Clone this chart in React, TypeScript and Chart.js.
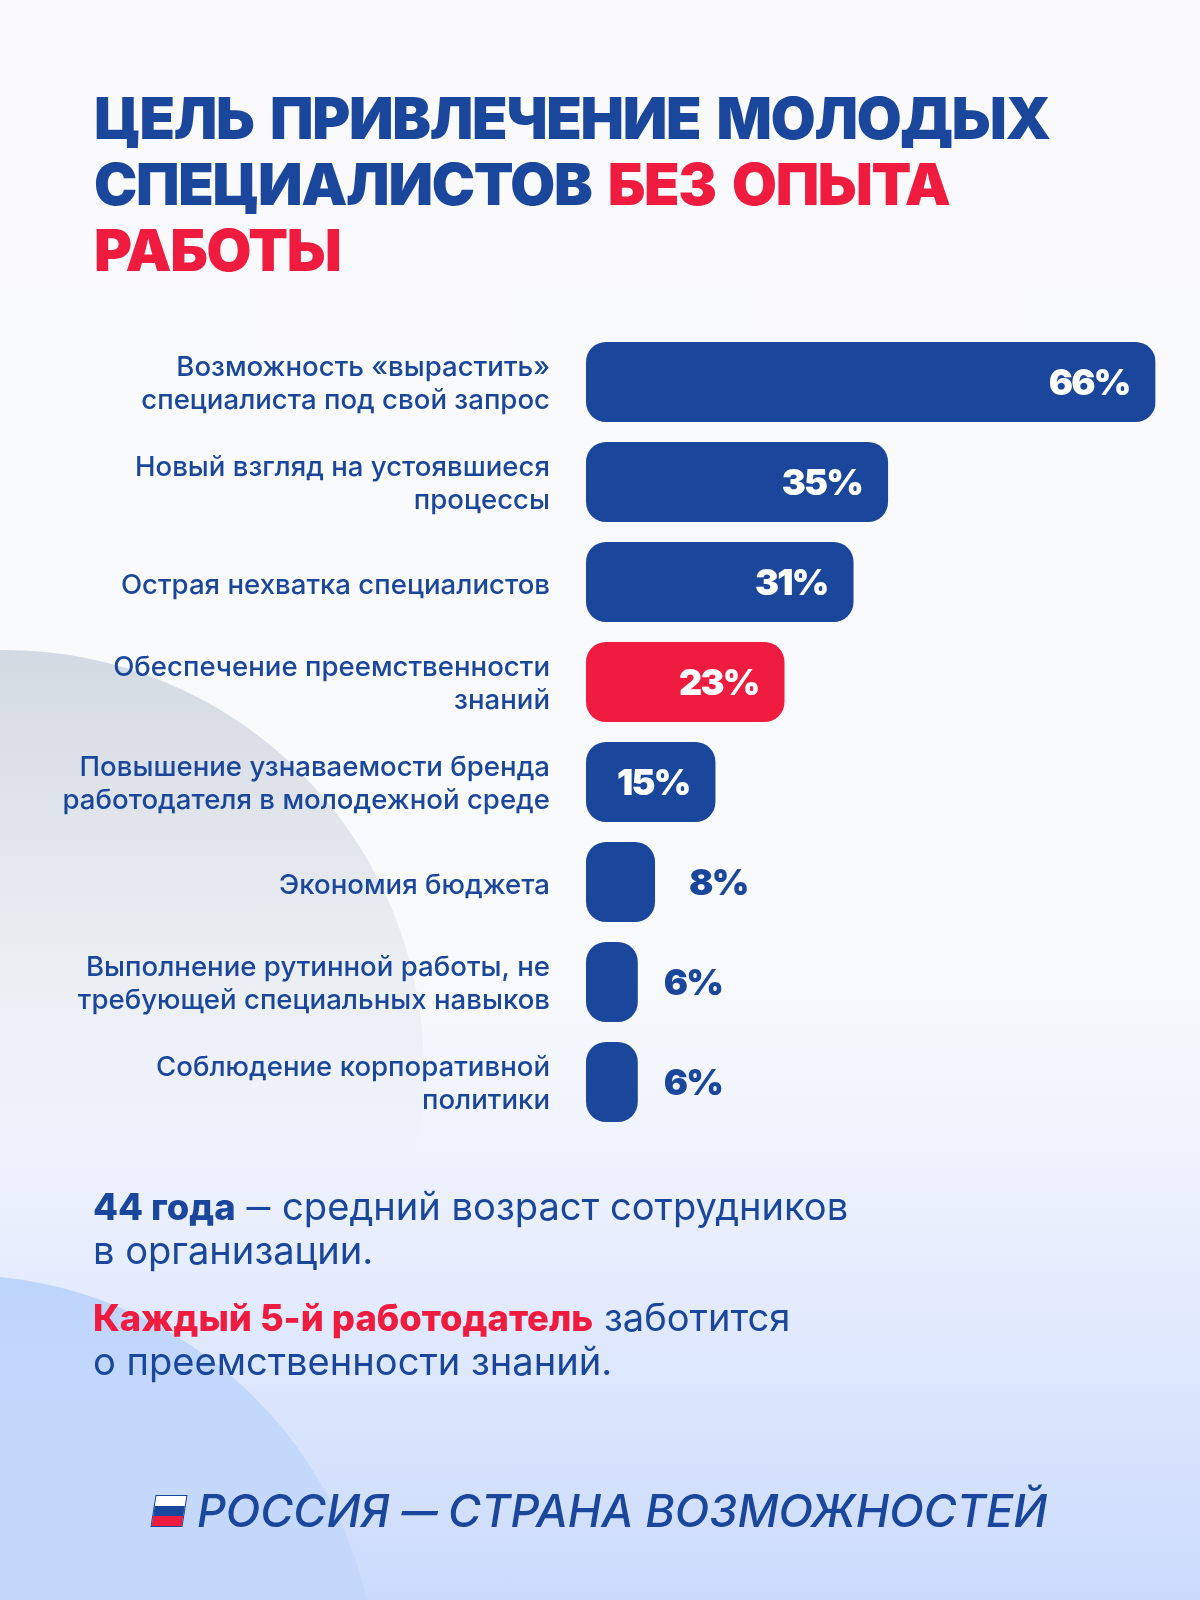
import { useEffect, useRef } from "react";
import { Chart, registerables } from "chart.js";

Chart.register(...registerables);

const BLUE = "#1A479C";
const RED = "#EF1C3F";

const categories = [
  ["Возможность «вырастить»", "специалиста под свой запрос"],
  ["Новый взгляд на устоявшиеся", "процессы"],
  ["Острая нехватка специалистов"],
  ["Обеспечение преемственности", "знаний"],
  ["Повышение узнаваемости бренда", "работодателя в молодежной среде"],
  ["Экономия бюджета"],
  ["Выполнение рутинной работы, не", "требующей специальных навыков"],
  ["Соблюдение корпоративной", "политики"],
];
const values = [66, 35, 31, 23, 15, 8, 6, 6];
const barColors = [BLUE, BLUE, BLUE, RED, BLUE, BLUE, BLUE, BLUE];

// Values above this sit inside the bar in white, the rest go beside it in blue.
const INSIDE_FROM = 15;

const valueLabels = {
  id: "valueLabels",
  // Chart.js has no y offset for tick labels, so nudge the cached items
  afterUpdate(chart: any) {
    chart.scales.y.getLabelItems().forEach((item: any) => {
      item.options.translation[1] += item.label.length === 1 ? 4 : 2;
    });
  },
  afterDatasetsDraw(chart: Chart) {
    const { ctx } = chart;
    ctx.save();
    ctx.font = "900 36px Inter, sans-serif";
    (ctx as any).letterSpacing = "-1.8px";
    ctx.textBaseline = "middle";
    chart.getDatasetMeta(0).data.forEach((bar, i) => {
      const inside = values[i] >= INSIDE_FROM;
      ctx.fillStyle = inside ? "#FFFFFF" : BLUE;
      ctx.textAlign = inside ? "right" : "left";
      // the 8% label stands a bit further off its bar than the 6% ones
      const gap = inside ? -26 : values[i] === 8 ? 34 : 26;
      ctx.fillText(values[i] + "%", bar.x + gap, bar.y + 2);
    });
    ctx.restore();
  },
};

export default function App() {
  const canvasRef = useRef<HTMLCanvasElement>(null);

  useEffect(() => {
    document.body.style.margin = "0";
    const chart = new Chart(canvasRef.current!, {
      type: "bar",
      data: {
        labels: categories,
        datasets: [
          {
            data: values,
            backgroundColor: barColors,
            borderRadius: 20,
            borderSkipped: false,
            inflateAmount: 0,
            barPercentage: 0.8,
            categoryPercentage: 1,
          },
        ],
      },
      options: {
        indexAxis: "y",
        responsive: false,
        animation: false,
        layout: { padding: { top: 332, bottom: 468, right: 44.4, left: 0 } },
        plugins: { legend: { display: false }, tooltip: { enabled: false } },
        scales: {
          x: { display: false, min: 0, max: 66 },
          y: {
            grid: { display: false },
            border: { display: false },
            afterFit(scale) {
              scale.width = 586;
            },
            ticks: {
              color: BLUE,
              padding: 28,
              font: { family: "Inter, sans-serif", size: 27.6, weight: 500, lineHeight: 1.19 },
            },
          },
        },
      },
      plugins: [valueLabels],
    });
    return () => chart.destroy();
  }, []);

  const paragraph = {
    position: "absolute",
    left: 93,
    fontSize: 38.1,
    lineHeight: "43px",
    color: BLUE,
    whiteSpace: "pre",
  } as const;
  const strong = { fontWeight: 800, fontSize: 36.4 };

  return (
    <div
      style={{
        position: "relative",
        width: 1200,
        height: 1600,
        overflow: "hidden",
        background: "linear-gradient(180deg, #FAFAFC 0%, #F9FAFC 60%, #EEF2FD 72.5%, #CBDBFC 100%)",
        fontFamily: "Inter, sans-serif",
      }}
    >
      {/* background circles */}
      <div
        style={{
          position: "absolute",
          left: -416,
          top: 650,
          width: 840,
          height: 840,
          borderRadius: "50%",
          background: "linear-gradient(180deg, #D4DAE3 0%, rgba(212,218,227,0) 60%)",
        }}
      />
      <div
        style={{
          position: "absolute",
          left: -462,
          top: 1275,
          width: 840,
          height: 840,
          borderRadius: "50%",
          background: "linear-gradient(180deg, #BDD4FB 0%, rgba(189,212,251,0) 75%)",
        }}
      />

      <div
        style={{
          position: "absolute",
          left: 94,
          top: 85,
          fontSize: 58,
          fontWeight: 900,
          lineHeight: "66px",
          letterSpacing: "-1.3px",
          wordSpacing: "6px",
          color: BLUE,
          whiteSpace: "pre",
        }}
      >
        {"ЦЕЛЬ ПРИВЛЕЧЕНИЕ МОЛОДЫХ\nСПЕЦИАЛИСТОВ "}
        <span style={{ color: RED }}>{"БЕЗ ОПЫТА\nРАБОТЫ"}</span>
      </div>

      <canvas ref={canvasRef} width={1200} height={1600} style={{ position: "absolute", left: 0, top: 0 }} />

      <div style={{ ...paragraph, top: 1185 }}>
        <b style={strong}>44 года</b>
        {" "}
        <span style={{ display: "inline-block", margin: "0 3px", transform: "scaleX(1.25)" }}>–</span>
        {" средний возраст сотрудников\nв организации."}
      </div>
      <div style={{ ...paragraph, top: 1296 }}>
        <b style={{ ...strong, color: RED }}>Каждый 5-й работодатель</b>
        {" заботится\nо преемственности знаний."}
      </div>

      {/* flag in front of the slogan */}
      <div
        style={{
          position: "absolute",
          left: 153,
          top: 1495,
          width: 30,
          height: 30,
          transform: "skewX(-9deg)",
          border: `1px solid ${BLUE}`,
          background: `linear-gradient(180deg, #FFFFFF 0 33%, ${BLUE} 33% 66%, ${RED} 66% 100%)`,
        }}
      />
      <div
        style={{
          position: "absolute",
          left: 197,
          top: 1484,
          fontSize: 45,
          lineHeight: "54px",
          fontStyle: "italic",
          fontWeight: 500,
          color: BLUE,
          whiteSpace: "pre",
        }}
      >
        {"РОССИЯ "}
        <span style={{ display: "inline-block", margin: "0 6px", transform: "scaleX(1.6)" }}>–</span>
        {" СТРАНА ВОЗМОЖНОСТЕЙ"}
      </div>
    </div>
  );
}
